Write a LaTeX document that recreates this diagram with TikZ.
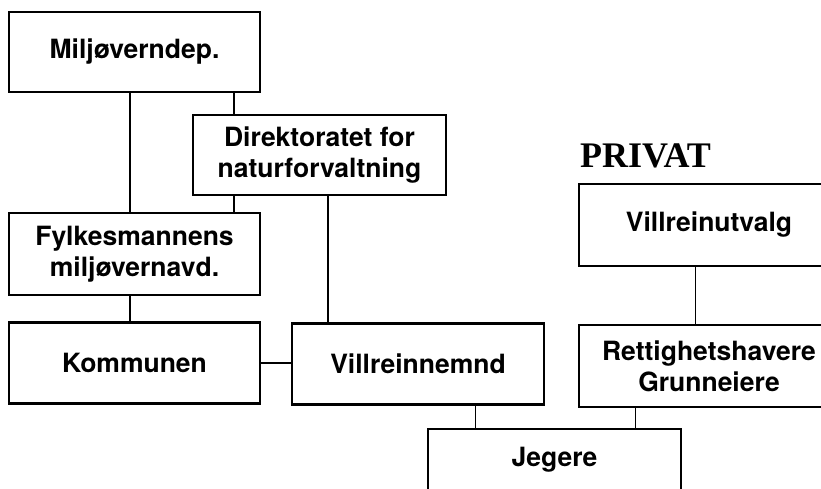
\documentclass[tikz,border=0pt]{standalone}
\usepackage{fontspec}
\setsansfont{TeX Gyre Heros}
\newfontfamily\privatfont{Liberation Serif}
\usetikzlibrary{calc}

\begin{document}
\begin{tikzpicture}[x=1pt, y=-1pt,
	boks/.style={draw, rectangle, line width=2.4pt, inner sep=0pt, align=center,
		font=\sffamily\bfseries\fontsize{26.5}{31}\selectfont},
	linje/.style={line width=1.5pt},
	tynn/.style={line width=1pt}]
	\useasboundingbox (0,0) rectangle (821,488);
	\clip (0,0) rectangle (821,488);
	
	% offentlig forvaltning
	\node[boks, minimum width=251pt, minimum height=80pt] (miljo) at (134.5,52) {Miljøverndep.};
	\node[boks, minimum width=253pt, minimum height=80pt] (dir) at (319.5,155) {Direktoratet for\\naturforvaltning};
	\node[boks, minimum width=251pt, minimum height=82pt] (fylkes) at (134.5,254) {Fylkesmannens\\miljøvernavd.};
	\node[boks, minimum width=251pt, minimum height=81pt] (kommune) at (134.5,363) {Kommunen};
	\node[boks, minimum width=252pt, minimum height=81pt] (vnemnd) at (418,364) {Villreinnemnd};
	
	% privat
	\node[anchor=base west, inner sep=0pt, font=\privatfont\bfseries\fontsize{36}{40}\selectfont] (privat) at (580,167) {PRIVAT};
	\node[boks, minimum width=260pt, minimum height=82pt] (vutvalg) at (709,225) {Villreinutvalg};
	\node[boks, minimum width=260pt, minimum height=82pt] (rett) at (709,366) {Rettighetshavere\\Grunneiere};
	\node[boks, minimum width=253pt, minimum height=62pt] (jegere) at (554.5,460) {Jegere};
	
	\draw[linje] ($(miljo.south)+(-4.5,0)$) -- ($(fylkes.north)+(-4.5,0)$);
	\draw[linje] ($(miljo.south west)+(226,0)$) -- ($(dir.north west)+(42,0)$);
	\draw[linje] ($(dir.south west)+(42,0)$) -- ($(fylkes.north west)+(226,0)$);
	\draw[linje] ($(dir.south west)+(136,0)$) -- ($(vnemnd.north west)+(37,0)$);
	\draw[linje] ($(fylkes.south)+(-4.5,0)$) -- ($(kommune.north)+(-4.5,0)$);
	\draw[linje] (kommune.east) -- (kommune.east -| vnemnd.west);
	\draw[tynn] ($(vutvalg.south west)+(118,0)$) -- ($(rett.north west)+(118,0)$);
	\draw[tynn] ($(vnemnd.south west)+(185,0)$) -- ($(jegere.north west)+(49,0)$);
	\draw[tynn] ($(rett.south west)+(58,0)$) -- ($(jegere.north west)+(209,0)$);
\end{tikzpicture}
\end{document}
